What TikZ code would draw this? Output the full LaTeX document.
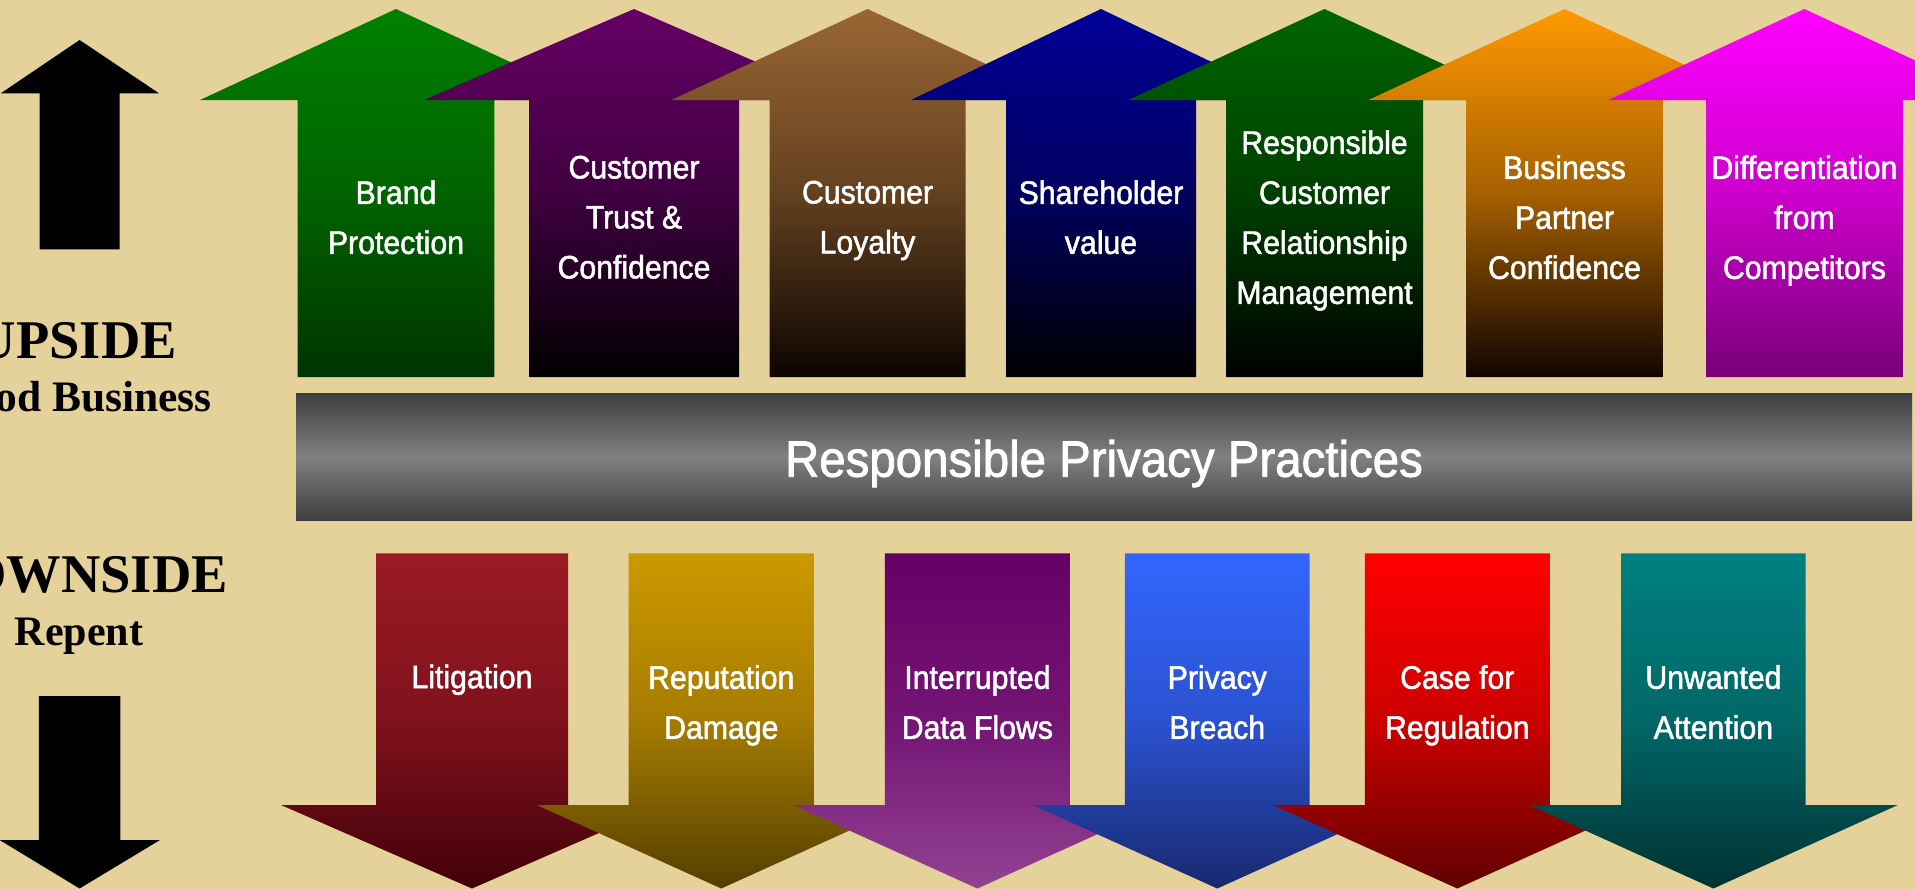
\documentclass[tikz,border=0pt]{standalone}
\usepackage{fontspec}
\newfontfamily\labelfont[FakeStretch=0.93,FakeBold=1.6]{Liberation Sans}
\newfontfamily\sidefont{Liberation Serif}

\definecolor{paper}{RGB}{229,209,154}
\definecolor{barDark}{RGB}{62,62,62}
\definecolor{barLight}{RGB}{128,128,128}
% upside arrows (top colour -> bottom colour)
\definecolor{upAtop}{RGB}{0,128,0}     \definecolor{upAbot}{RGB}{0,52,0}
\definecolor{upBtop}{RGB}{102,0,102}   \definecolor{upBbot}{RGB}{0,0,0}
\definecolor{upCtop}{RGB}{153,102,51}  \definecolor{upCbot}{RGB}{12,4,0}
\definecolor{upDtop}{RGB}{0,0,153}     \definecolor{upDbot}{RGB}{0,0,0}
\definecolor{upEtop}{RGB}{0,102,0}     \definecolor{upEbot}{RGB}{0,0,0}
\definecolor{upFtop}{RGB}{255,153,0}   \definecolor{upFbot}{RGB}{18,4,0}
\definecolor{upGtop}{RGB}{255,0,255}   \definecolor{upGbot}{RGB}{120,0,120}
% downside arrows
\definecolor{dnAtop}{RGB}{156,26,36}   \definecolor{dnAbot}{RGB}{66,0,10}
\definecolor{dnBtop}{RGB}{204,153,0}   \definecolor{dnBbot}{RGB}{84,62,0}
\definecolor{dnCtop}{RGB}{102,0,102}   \definecolor{dnCbot}{RGB}{145,66,146}
\definecolor{dnDtop}{RGB}{51,102,255}  \definecolor{dnDbot}{RGB}{24,40,110}
\definecolor{dnEtop}{RGB}{255,0,0}     \definecolor{dnEbot}{RGB}{96,0,0}
\definecolor{dnFtop}{RGB}{0,128,128}   \definecolor{dnFbot}{RGB}{0,50,50}

% #1 centre x, #2 half shaft width, #3 half head width, #4 top colour, #5 bottom colour
\newcommand\upblock[5]{%
  \shade[top color=#4, bottom color=#5, middle color=#4!62!#5]
    ({#1-#2},377) -- ({#1-#2},100) -- ({#1-#3},100) -- (#1,9)
    -- ({#1+#3},100) -- ({#1+#2},100) -- ({#1+#2},377) -- cycle;}
\newcommand\downblock[5]{%
  \shade[top color=#4, bottom color=#5, middle color=#4!68!#5]
    ({#1-#2},553.3) -- ({#1-#2},805) -- ({#1-#3},805) -- (#1,888.5)
    -- ({#1+#3},805) -- ({#1+#2},805) -- ({#1+#2},553.3) -- cycle;}

\tikzset{
  arrowlabel/.style={text=white, font=\labelfont\fontsize{32.5}{50}\selectfont,
    align=center, inner sep=0pt,
    execute at begin node=\strut, execute at end node=\strut},
  banner/.style={text=white, font=\labelfont\fontsize{51}{60}\selectfont, inner sep=0pt},
  sidetitle/.style={font=\sidefont\bfseries\fontsize{54.5}{60}\selectfont, inner sep=0pt},
  sidesub/.style={font=\sidefont\bfseries\fontsize{43.5}{50}\selectfont, inner sep=0pt},
}

\begin{document}
\begin{tikzpicture}[x=1pt,y=-1pt]
  \path[use as bounding box, fill=paper] (0,0) rectangle (1915,889);
  \clip (0,0) rectangle (1915,889);

  % side markers
  \fill[black] (39.6,249.3) -- (39.6,93.3) -- (0.8,93.3) -- (79.6,40)
    -- (159,93.3) -- (119.6,93.3) -- (119.6,249.3) -- cycle;
  \fill[black] (38.8,696) -- (38.8,840) -- (-0.4,840) -- (79.6,888.5)
    -- (160,840) -- (120.4,840) -- (120.4,696) -- cycle;

  \node[sidetitle, anchor=base east] (upside) at (177,358.3) {UPSIDE};
  \node[sidesub, anchor=base east] (goodbiz) at (212,411.7) {Good Business};
  \node[sidetitle, anchor=base east] (downside) at (228,592.7) {DOWNSIDE};
  \node[sidesub, anchor=base, font=\sidefont\bfseries\fontsize{42}{50}\selectfont]
       (repent) at (79,645) {Repent};

  % upside arrows, left to right
  \upblock{396}{98.3}{196}{upAtop}{upAbot}
  \upblock{634}{105}{210}{upBtop}{upBbot}
  \upblock{867.5}{98}{196}{upCtop}{upCbot}
  \upblock{1101}{95}{190}{upDtop}{upDbot}
  \upblock{1324.5}{98.5}{196}{upEtop}{upEbot}
  \upblock{1564.5}{98.4}{196}{upFtop}{upFbot}
  \upblock{1804.4}{98.4}{196}{upGtop}{upGbot}

  \node[arrowlabel] (brand)   at (396,224.6)    {Brand\\Protection};
  \node[arrowlabel] (trust)   at (634,224.6)    {Customer\\Trust \&\\Confidence};
  \node[arrowlabel] (loyalty) at (867.5,224.6)  {Customer\\Loyalty};
  \node[arrowlabel] (share)   at (1101,224.6)   {Shareholder\\value};
  \node[arrowlabel] (crm)     at (1324.5,224.6) {Responsible\\Customer\\Relationship\\Management};
  \node[arrowlabel] (partner) at (1564.5,224.6) {Business\\Partner\\Confidence};
  \node[arrowlabel] (differ)  at (1804.4,224.6) {Differentiation\\from\\Competitors};

  % central banner
  \node[rectangle, top color=barDark, bottom color=barDark, middle color=barLight,
        minimum width=1616pt, minimum height=127.7pt, inner sep=0pt]
        (bar) at (1104,456.9) {};
  \node[banner, anchor=base] (practices) at (1104,476.7) {Responsible Privacy Practices};

  % downside arrows, left to right
  \downblock{472}{96}{191}{dnAtop}{dnAbot}
  \downblock{721.3}{92.6}{184.5}{dnBtop}{dnBbot}
  \downblock{977.4}{92.5}{184.4}{dnCtop}{dnCbot}
  \downblock{1217.3}{92.4}{184.6}{dnDtop}{dnDbot}
  \downblock{1457.3}{92.5}{184.5}{dnEtop}{dnEbot}
  \downblock{1713.4}{92.3}{184.4}{dnFtop}{dnFbot}

  \node[arrowlabel, anchor=north] (litig)   at (472,653)    {Litigation};
  \node[arrowlabel, anchor=north] (reput)   at (721.3,665)  {Reputation\\Damage};
  \node[arrowlabel, anchor=north] (flows)   at (977.4,665)  {Interrupted\\Data Flows};
  \node[arrowlabel, anchor=north] (breach)  at (1217.3,665) {Privacy\\Breach};
  \node[arrowlabel, anchor=north] (regul)   at (1457.3,665) {Case for\\Regulation};
  \node[arrowlabel, anchor=north] (attent)  at (1713.4,665) {Unwanted\\Attention};
\end{tikzpicture}
\end{document}
